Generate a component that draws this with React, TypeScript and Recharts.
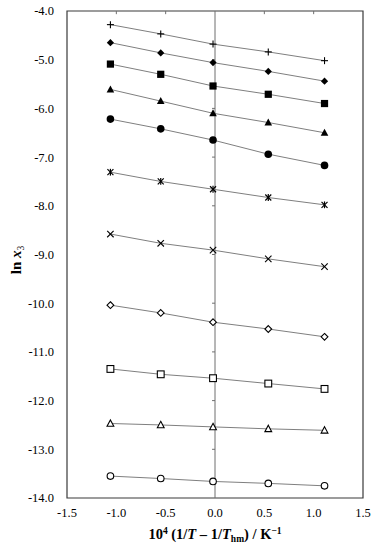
import React from 'react';
import {
  LineChart,
  Line,
  XAxis,
  YAxis,
  ReferenceLine,
  ReferenceArea,
} from 'recharts';

const xValues = [-1.06, -0.55, -0.02, 0.54, 1.11];

const sPlus = [-4.28, -4.47, -4.68, -4.84, -5.02];
const sDiamondFilled = [-4.65, -4.86, -5.06, -5.24, -5.44];
const sSquareFilled = [-5.09, -5.3, -5.54, -5.71, -5.9];
const sTriangleFilled = [-5.61, -5.85, -6.1, -6.29, -6.5];
const sCircleFilled = [-6.22, -6.42, -6.65, -6.94, -7.17];
const sAsterisk = [-7.31, -7.5, -7.66, -7.83, -7.98];
const sCross = [-8.58, -8.77, -8.91, -9.09, -9.25];
const sDiamondOpen = [-10.04, -10.2, -10.39, -10.53, -10.69];
const sSquareOpen = [-11.35, -11.46, -11.54, -11.65, -11.76];
const sTriangleOpen = [-12.47, -12.5, -12.54, -12.58, -12.61];
const sCircleOpen = [-13.55, -13.6, -13.66, -13.7, -13.75];

const xTicks = [-1.5, -1.0, -0.5, 0.0, 0.5, 1.0, 1.5];
const yTicks = [-14, -13, -12, -11, -10, -9, -8, -7, -6, -5, -4];

const series: { key: string; values: number[]; marker: string }[] = [
  { key: 'plus', values: sPlus, marker: 'plus' },
  { key: 'diamondFilled', values: sDiamondFilled, marker: 'diamondFilled' },
  { key: 'squareFilled', values: sSquareFilled, marker: 'squareFilled' },
  { key: 'triangleFilled', values: sTriangleFilled, marker: 'triangleFilled' },
  { key: 'circleFilled', values: sCircleFilled, marker: 'circleFilled' },
  { key: 'asterisk', values: sAsterisk, marker: 'asterisk' },
  { key: 'cross', values: sCross, marker: 'cross' },
  { key: 'diamondOpen', values: sDiamondOpen, marker: 'diamondOpen' },
  { key: 'squareOpen', values: sSquareOpen, marker: 'squareOpen' },
  { key: 'triangleOpen', values: sTriangleOpen, marker: 'triangleOpen' },
  { key: 'circleOpen', values: sCircleOpen, marker: 'circleOpen' },
];

const data = xValues.map((x, i) => {
  const row: Record<string, number> = { x };
  series.forEach((s) => {
    row[s.key] = s.values[i];
  });
  return row;
});

const FONT = '"Liberation Serif", "Times New Roman", serif';

function makeDot(marker: string) {
  return (props: any) => {
    const { cx, cy, index } = props;
    if (cx == null || cy == null) return <g key={index} />;
    const k = `${marker}-${index}`;
    switch (marker) {
      case 'plus':
        return (
          <g key={k} stroke="#000" strokeWidth={1.1}>
            <line x1={cx - 3.5} y1={cy} x2={cx + 3.5} y2={cy} />
            <line x1={cx} y1={cy - 3.5} x2={cx} y2={cy + 3.5} />
          </g>
        );
      case 'diamondFilled':
        return (
          <polygon
            key={k}
            points={`${cx},${cy - 3.6} ${cx + 3.6},${cy} ${cx},${cy + 3.6} ${cx - 3.6},${cy}`}
            fill="#000"
          />
        );
      case 'squareFilled':
        return <rect key={k} x={cx - 3.6} y={cy - 3.6} width={7.2} height={7.2} fill="#000" />;
      case 'triangleFilled':
        return (
          <polygon
            key={k}
            points={`${cx},${cy - 4} ${cx + 3.8},${cy + 3} ${cx - 3.8},${cy + 3}`}
            fill="#000"
          />
        );
      case 'circleFilled':
        return <circle key={k} cx={cx} cy={cy} r={3.8} fill="#000" />;
      case 'asterisk':
        return (
          <g key={k} stroke="#000" strokeWidth={1.2}>
            <line x1={cx - 3} y1={cy - 3} x2={cx + 3} y2={cy + 3} />
            <line x1={cx - 3} y1={cy + 3} x2={cx + 3} y2={cy - 3} />
            <line x1={cx} y1={cy - 3.4} x2={cx} y2={cy + 3.4} />
          </g>
        );
      case 'cross':
        return (
          <g key={k} stroke="#000" strokeWidth={1.1}>
            <line x1={cx - 3.2} y1={cy - 3.2} x2={cx + 3.2} y2={cy + 3.2} />
            <line x1={cx - 3.2} y1={cy + 3.2} x2={cx + 3.2} y2={cy - 3.2} />
          </g>
        );
      case 'diamondOpen':
        return (
          <polygon
            key={k}
            points={`${cx},${cy - 3.4} ${cx + 3.4},${cy} ${cx},${cy + 3.4} ${cx - 3.4},${cy}`}
            fill="#fff"
            stroke="#000"
            strokeWidth={1.1}
          />
        );
      case 'squareOpen':
        return (
          <rect
            key={k}
            x={cx - 3.4}
            y={cy - 3.4}
            width={6.8}
            height={6.8}
            fill="#fff"
            stroke="#000"
            strokeWidth={1.1}
          />
        );
      case 'triangleOpen':
        return (
          <polygon
            key={k}
            points={`${cx},${cy - 3.6} ${cx + 3.4},${cy + 2.8} ${cx - 3.4},${cy + 2.8}`}
            fill="#fff"
            stroke="#000"
            strokeWidth={1.1}
          />
        );
      case 'circleOpen':
      default:
        return <circle key={k} cx={cx} cy={cy} r={3.3} fill="#fff" stroke="#000" strokeWidth={1.1} />;
    }
  };
}

const XLabel = (props: any) => {
  const { viewBox } = props;
  const cx = viewBox.x + viewBox.width / 2;
  const y = viewBox.y + 41;
  return (
    <text x={cx} y={y} textAnchor="middle" fontFamily={FONT} fontSize={14.5} fontWeight="bold" fill="#000">
      <tspan>10</tspan>
      <tspan fontSize={9.5} dy={-5}>4</tspan>
      <tspan dy={5}> (1/</tspan>
      <tspan fontStyle="italic">T</tspan>
      <tspan> – 1/</tspan>
      <tspan fontStyle="italic">T</tspan>
      <tspan fontSize={9.5} dy={3}>hm</tspan>
      <tspan dy={-3}>) / K</tspan>
      <tspan fontSize={9.5} dy={-5}>−1</tspan>
    </text>
  );
};

const YLabel = () => (
  <text
    x={0}
    y={0}
    transform="translate(21, 260) rotate(-90)"
    textAnchor="middle"
    fontFamily={FONT}
    fontSize={15}
    fontWeight="bold"
    fill="#000"
  >
    <tspan>ln </tspan>
    <tspan fontStyle="italic">x</tspan>
    <tspan fontSize={9.5} dy={3} fontWeight="normal">3</tspan>
  </text>
);

export default function App() {
  return (
    <div style={{ position: 'absolute', left: 0, top: 0, width: 378, height: 550, background: '#fff' }}>
      <LineChart
        width={378}
        height={550}
        data={data}
        margin={{ top: 11, right: 15, bottom: 0, left: 0 }}
      >
        <ReferenceArea
          x1={-1.5}
          x2={1.5}
          y1={-14}
          y2={-4}
          fill="none"
          fillOpacity={0}
          stroke="#3a3a3a"
          strokeWidth={1.2}
        />
        <ReferenceLine x={0} stroke="#6f6f6f" strokeWidth={1} />
        {xTicks
          .filter((t) => t !== 0 && Math.abs(t) !== 1.5)
          .map((t) => (
            <ReferenceLine
              key={`xt${t}`}
              segment={[
                { x: t, y: -4 },
                { x: t, y: -4.065 },
              ]}
              stroke="#6f6f6f"
            />
          ))}
        {yTicks
          .filter((t) => t !== -4 && t !== -14)
          .map((t) => (
            <ReferenceLine
              key={`yt${t}`}
              segment={[
                { x: -0.03, y: t },
                { x: 0, y: t },
              ]}
              stroke="#6f6f6f"
            />
          ))}
        <XAxis
          dataKey="x"
          type="number"
          domain={[-1.5, 1.5]}
          ticks={xTicks}
          tickFormatter={(v: number) => v.toFixed(1)}
          axisLine={false}
          tickLine={false}
          tickSize={0}
          tickMargin={10}
          height={52}
          interval={0}
          tick={{ fontFamily: FONT, fontSize: 12.5, fill: '#000' }}
          label={<XLabel />}
        />
        <YAxis
          type="number"
          domain={[-14, -4]}
          ticks={yTicks}
          tickFormatter={(v: number) => v.toFixed(1)}
          axisLine={false}
          tickLine={false}
          tickSize={0}
          tickMargin={13}
          width={67}
          interval={0}
          allowDataOverflow
          tick={{ fontFamily: FONT, fontSize: 12.5, fill: '#000' }}
          label={<YLabel />}
        />
        {series.map((s) => (
          <Line
            key={s.key}
            dataKey={s.key}
            type="linear"
            stroke="#7f7f7f"
            strokeWidth={1}
            dot={makeDot(s.marker)}
            activeDot={false}
            isAnimationActive={false}
          />
        ))}
      </LineChart>
    </div>
  );
}
